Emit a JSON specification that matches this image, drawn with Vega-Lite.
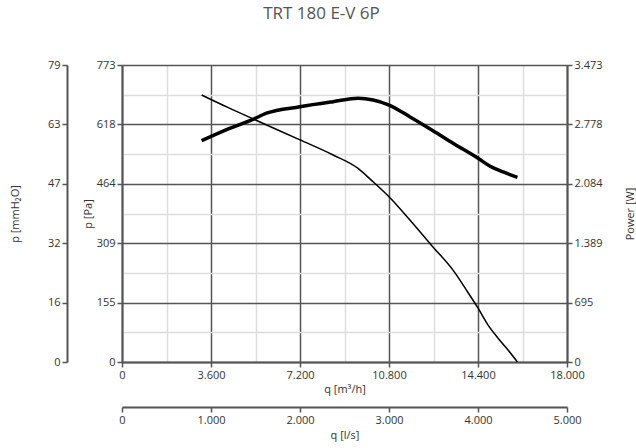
{
  "$schema": "https://vega.github.io/schema/vega-lite/v6.json",
  "width": 445,
  "height": 297,
  "autosize": {"type": "none"},
  "padding": {"left": 122, "top": 65, "right": 69, "bottom": 86},
  "title": {"text": "TRT 180 E-V 6P", "font": "Open Sans", "fontSize": 17, "fontWeight": "normal", "color": "#555", "offset": 36, "dx": -23},
  "config": {
    "view": {"stroke": null},
    "axis": {
      "domainColor": "#555", "domainWidth": 2,
      "tickColor": "#555", "tickWidth": 1.5, "tickSize": 5,
      "labelFont": "Open Sans", "labelFontSize": 11, "labelColor": "#333", "labelPadding": 2,
      "labelFlush": false, "labelOverlap": false,
      "titleFont": "Open Sans", "titleFontSize": 11, "titleFontWeight": "normal", "titleColor": "#333",
      "gridColor": "#555", "gridWidth": 1.5
    }
  },
  "datasets": {
    "pressure": [
      {"q": 3220, "p": 695}, {"q": 4300, "p": 662}, {"q": 5400, "p": 630}, {"q": 7200, "p": 578},
      {"q": 8500, "p": 540}, {"q": 9548, "p": 504}, {"q": 10157, "p": 469}, {"q": 10802, "p": 430},
      {"q": 11636, "p": 370}, {"q": 12513, "p": 304}, {"q": 13390, "p": 239}, {"q": 13933, "p": 187},
      {"q": 14404, "p": 140}, {"q": 14808, "p": 96}, {"q": 15212, "p": 62}, {"q": 15616, "p": 31},
      {"q": 15996, "p": 0}
    ],
    "power": [
      {"q": 3220, "w": 2588}, {"q": 4230, "w": 2718}, {"q": 5303, "w": 2838}, {"q": 5845, "w": 2909},
      {"q": 7203, "w": 2985}, {"q": 8540, "w": 3044}, {"q": 9548, "w": 3084}, {"q": 10157, "w": 3064},
      {"q": 10802, "w": 3005}, {"q": 11636, "w": 2869}, {"q": 12580, "w": 2705}, {"q": 13390, "w": 2558},
      {"q": 14404, "w": 2382}, {"q": 14876, "w": 2292}, {"q": 15414, "w": 2222}, {"q": 15996, "w": 2160}
    ]
  },
  "layer": [
    {
      "data": {"name": "pressure"},
      "mark": {"type": "line", "opacity": 0},
      "encoding": {
        "x": {"field": "q", "type": "quantitative", "scale": {"domain": [0, 18000], "nice": false},
              "axis": {"values": [1800, 5400, 9000, 12600, 16200], "grid": true, "gridColor": "#dddddd", "gridWidth": 1.5, "labels": false, "ticks": false, "domain": false, "title": null}},
        "y": {"field": "p", "type": "quantitative", "scale": {"domain": [0, 773], "nice": false},
              "axis": {"values": [77.3, 231.9, 386.5, 541.1, 695.7], "grid": true, "gridColor": "#dddddd", "gridWidth": 1.5, "labels": false, "ticks": false, "domain": false, "title": null}}
      }
    },
    {
      "data": {"name": "pressure"},
      "mark": {"type": "line", "color": "black", "strokeWidth": 1.5, "interpolate": "monotone"},
      "encoding": {
        "x": {"field": "q", "type": "quantitative", "scale": {"domain": [0, 18000], "nice": false},
              "axis": {"orient": "bottom", "values": [0, 3600, 7200, 10800, 14400, 18000], "grid": true,
                       "labelExpr": "replace(format(datum.value, ',.0f'), ',', '.')", "title": "q [m³/h]", "titlePadding": 3}},
        "y": {"field": "p", "type": "quantitative", "scale": {"domain": [0, 773], "nice": false},
              "axis": {"orient": "left", "values": [0, 154.6, 309.2, 463.8, 618.4, 773], "grid": true,
                       "labelExpr": "format(datum.value, '.0f')", "title": "p [Pa]", "titlePadding": 3}}
      }
    },
    {
      "data": {"name": "power"},
      "mark": {"type": "line", "color": "black", "strokeWidth": 3.5, "interpolate": "monotone"},
      "encoding": {
        "x": {"field": "q", "type": "quantitative", "scale": {"domain": [0, 18000], "nice": false}, "axis": null},
        "y": {"field": "w", "type": "quantitative", "scale": {"domain": [0, 3473], "nice": false},
              "axis": {"orient": "right", "values": [0, 694.6, 1389.2, 2083.8, 2778.4, 3473], "grid": false,
                       "labelExpr": "replace(format(datum.value, ',.0f'), ',', '.')", "title": "Power [W]", "titleAngle": 270, "titleBaseline": "bottom", "titlePadding": 33}}
      }
    },
    {
      "data": {"name": "pressure"},
      "mark": {"type": "line", "opacity": 0},
      "encoding": {
        "x": {"field": "q", "type": "quantitative", "scale": {"domain": [0, 18000], "nice": false}, "axis": null},
        "y": {"field": "p", "type": "quantitative", "scale": {"domain": [0, 773], "nice": false},
              "axis": {"orient": "left", "offset": 55, "values": [0, 154.6, 309.2, 463.8, 618.4, 773], "grid": false,
                       "labelExpr": "format(datum.value / 9.80665, '.0f')", "title": "p [mmH₂O]", "titlePadding": 27}}
      }
    },
    {
      "data": {"name": "pressure"},
      "mark": {"type": "line", "opacity": 0},
      "encoding": {
        "x": {"field": "q", "type": "quantitative", "scale": {"domain": [0, 18000], "nice": false},
              "axis": {"orient": "bottom", "offset": 45, "values": [0, 3600, 7200, 10800, 14400, 18000], "grid": false,
                       "labelExpr": "replace(format(datum.value / 3.6, ',.0f'), ',', '.')", "title": "q [l/s]", "titlePadding": 4}},
        "y": {"field": "p", "type": "quantitative", "scale": {"domain": [0, 773], "nice": false}, "axis": null}
      }
    }
  ],
  "resolve": {
    "scale": {"x": "independent", "y": "independent"},
    "axis": {"x": "independent", "y": "independent"}
  }
}
